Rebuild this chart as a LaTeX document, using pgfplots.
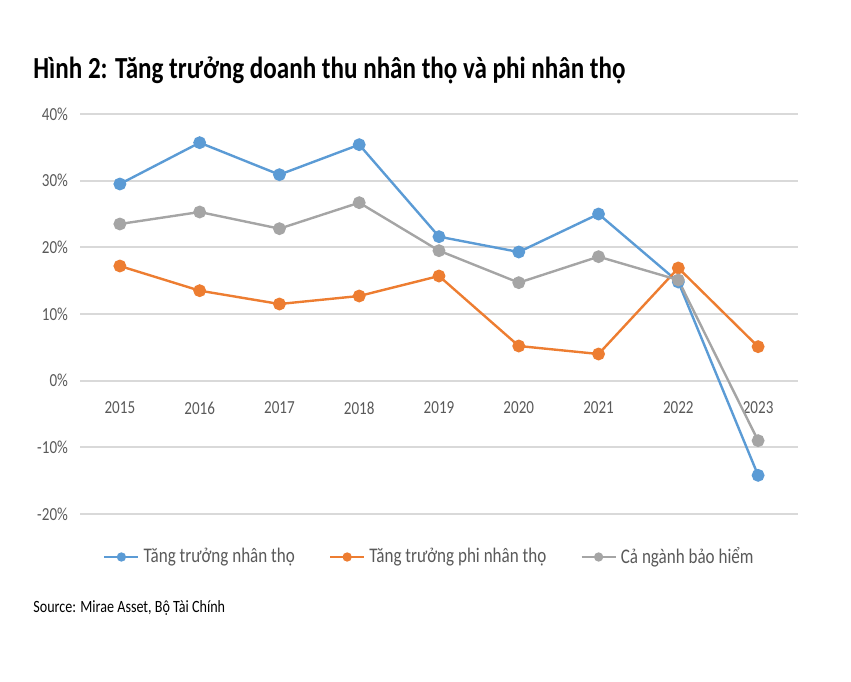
\documentclass[border=0pt]{standalone}
\usepackage{fontspec}
\setmainfont{Carlito}[FakeStretch=0.82]
\usepackage{pgfplots}
\pgfplotsset{compat=1.18}
\definecolor{cblue}{HTML}{5B9BD5}
\definecolor{corange}{HTML}{ED7D31}
\definecolor{cgray}{HTML}{A5A5A5}
\definecolor{cgrid}{HTML}{D9D9D9}
\definecolor{ctext}{HTML}{595959}
\begin{document}
\begin{tikzpicture}
\useasboundingbox (0pt,0pt) rectangle (425.5pt,340.5pt);
\node[anchor=west, inner sep=0pt, font=\bfseries\fontsize{15.3}{18}\selectfont] at (16.5pt,305.5pt) {Hình 2: Tăng trưởng doanh thu nhân thọ và phi nhân thọ};
\node[anchor=west, inner sep=0pt, font=\fontsize{8.6}{10}\selectfont] at (16.5pt,36.5pt) {Source: Mirae Asset, Bộ Tài Chính};
\begin{axis}[
  at={(40pt,83.5pt)}, anchor=south west,
  scale only axis, width=359pt, height=200pt,
  xmin=-0.5, xmax=8.5, ymin=-20, ymax=40,
  axis x line=middle, axis y line=left,
  axis line style={draw=none},
  hide obscured x ticks=false, hide obscured y ticks=false,
  major tick length=0pt,
  xtick={0,...,8},
  xticklabels={2015,2016,2017,2018,2019,2020,2021,2022,2023},
  ytick={-20,-10,0,10,20,30,40},
  yticklabels={-20\%,-10\%,0\%,10\%,20\%,30\%,40\%},
  ticklabel style={font=\fontsize{9.2}{11}\selectfont, text=ctext},
  xticklabel style={yshift=-7pt},
  yticklabel style={xshift=-2.5pt},
  ymajorgrids, grid style={draw=cgrid, line width=0.9pt},
  every axis plot/.append style={line width=1.2pt, mark=*, mark size=2.6pt},
  legend columns=3,
  legend style={at={(0.488,-0.1075)}, anchor=center, draw=none, fill=none,
    font=\fontsize{10.4}{12}\selectfont, text=ctext,
    /tikz/every even column/.append style={column sep=15pt}},
  legend image post style={mark options={scale=0.65}},
  legend cell align=left,
]
\addplot[cblue] coordinates {(0,29.5) (1,35.7) (2,30.9) (3,35.4) (4,21.6) (5,19.3) (6,25.0) (7,14.8) (8,-14.2)};
\addlegendentry{Tăng trưởng nhân thọ}
\addplot[corange] coordinates {(0,17.2) (1,13.5) (2,11.5) (3,12.7) (4,15.7) (5,5.2) (6,4.0) (7,16.9) (8,5.1)};
\addlegendentry{Tăng trưởng phi nhân thọ}
\addplot[cgray] coordinates {(0,23.5) (1,25.3) (2,22.8) (3,26.7) (4,19.5) (5,14.7) (6,18.6) (7,15.1) (8,-9.0)};
\addlegendentry{Cả ngành bảo hiểm}
\end{axis}
\end{tikzpicture}
\end{document}
